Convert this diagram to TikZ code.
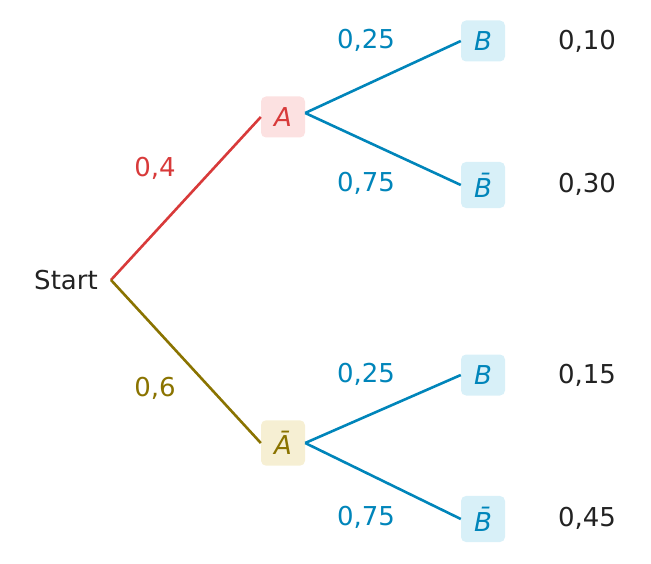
\documentclass[tikz,border=0pt]{standalone}
\usepackage{fontspec}
\setmainfont{DejaVu Sans}
\definecolor{ink}{HTML}{222222}
\definecolor{redc}{HTML}{D83A3A}
\definecolor{redfill}{HTML}{FCE1E1}
\definecolor{olivec}{HTML}{8A7300}
\definecolor{olivefill}{HTML}{F6EFD3}
\definecolor{bluec}{HTML}{0085BA}
\definecolor{bluefill}{HTML}{D8F0F8}
\begin{document}
\begin{tikzpicture}[x=1pt,y=-1pt,font=\fontsize{26}{31}\selectfont]
\tikzstyle{ev}=[rounded corners=5pt,minimum width=44pt,minimum height=41pt,inner sep=11pt,font=\fontsize{26}{31}\selectfont\itshape]
\tikzstyle{br}=[line width=2.6pt]
\useasboundingbox (0,0) rectangle (651,564);
\node[text=ink] at (66,280) (s) {Start};
\coordinate (o) at (111,280);
\node[ev,fill=redfill,text=redc] at (283,117) (a) {A};
\node[ev,fill=olivefill,text=olivec] at (283,443) (na) {Ā};
\node[ev,fill=bluefill,text=bluec] at (483,41) (ab) {B};
\node[ev,fill=bluefill,text=bluec] at (483,185) (anb) {B̄};
\node[ev,fill=bluefill,text=bluec] at (483,375) (nab) {B};
\node[ev,fill=bluefill,text=bluec] at (483,519) (nanb) {B̄};

\node[text=redc] at (155,168) (pa) {0,4};
\node[text=olivec] at (155,388) (pna) {0,6};
\node[text=bluec] at (366,40) (pab) {0,25};
\node[text=bluec] at (366,183) (panb) {0,75};
\node[text=bluec] at (366,374) (pnab) {0,25};
\node[text=bluec] at (366,517) (pnanb) {0,75};

\node[text=ink] at (587,41) (rab) {0,10};
\node[text=ink] at (587,184) (ranb) {0,30};
\node[text=ink] at (587,375) (rnab) {0,15};
\node[text=ink] at (587,518) (rnanb) {0,45};

\draw[br,redc] (o) -- (a.west);
\draw[br,olivec] (o) -- (na.west);
\draw[br,bluec] ([yshift=4pt]a.east) -- (ab.west);
\draw[br,bluec] ([yshift=4pt]a.east) -- (anb.west);
\draw[br,bluec] (na.east) -- (nab.west);
\draw[br,bluec] (na.east) -- (nanb.west);
\end{tikzpicture}
\end{document}
